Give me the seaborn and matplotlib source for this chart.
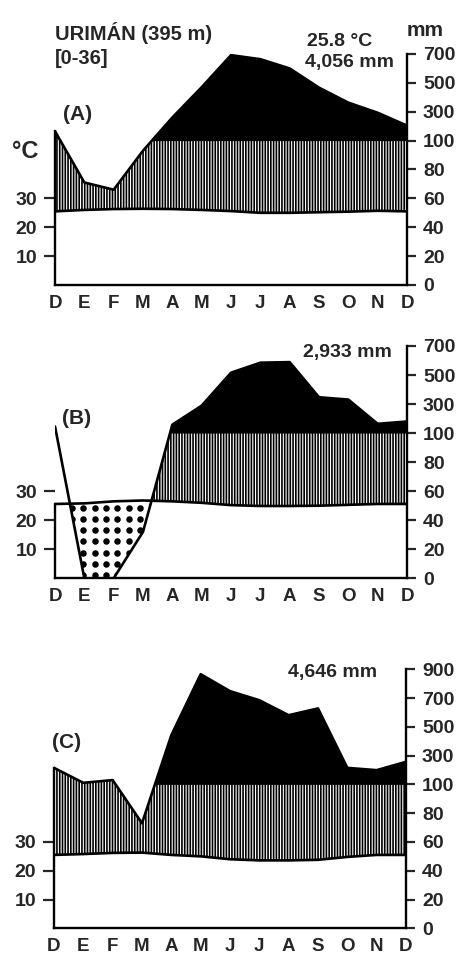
import numpy as np
import matplotlib
matplotlib.use("Agg")
import matplotlib.pyplot as plt
import seaborn as sns

# months from December to December (13 points)
months = ["D", "E", "F", "M", "A", "M", "J", "J", "A", "S", "O", "N", "D"]

# (A) Urimán
temp_a = [25.5, 26.0, 26.3, 26.4, 26.3, 26.0, 25.6, 25.0, 25.0, 25.2, 25.4, 25.7, 25.5]
prec_a = [165, 71, 66, 93, 260, 470, 692, 664, 600, 467, 363, 293, 204]
# (B)
temp_b = [25.6, 25.8, 26.5, 26.8, 26.5, 26.0, 25.2, 24.9, 24.9, 25.0, 25.3, 25.6, 25.6]
prec_b = [146, 0, 0, 32, 158, 289, 516, 585, 589, 347, 331, 164, 180]
# (C)
temp_c = [25.5, 25.8, 26.2, 26.3, 25.5, 25.0, 24.0, 23.6, 23.6, 23.8, 24.8, 25.5, 25.5]
prec_c = [215, 111, 130, 73, 442, 866, 748, 685, 581, 628, 215, 199, 257]

mm_ticks_700 = [0, 20, 40, 60, 80, 100, 300, 500, 700]
mm_ticks_900 = [0, 20, 40, 60, 80, 100, 300, 500, 700, 900]
temp_ticks = [10, 20, 30]

sns.set_style("white")
plt.rcParams["font.family"] = ["Liberation Sans", "DejaVu Sans"]
plt.rcParams["font.weight"] = "bold"
plt.rcParams["hatch.linewidth"] = 1.2

W, H = 463, 957
fig = plt.figure(figsize=(W / 100, H / 100), dpi=100)


def mm_scale(v):
    v = np.asarray(v, float)
    return np.where(v <= 100, v, 100 + (v - 100) / 10)


def px_text(x, y, s, size=14):
    fig.text(x / W, 1 - y / H, s, va="center", ha="left", fontsize=size,
             fontweight="bold")


def panel(left, right, bottom, top, temp, prec, mm_ticks):
    ax = fig.add_axes([left / W, 1 - bottom / H, (right - left) / W, (bottom - top) / H])
    x = np.arange(len(months))
    t = 2 * np.asarray(temp)          # 10 degC = 20 mm
    p = mm_scale(prec)

    xf = np.linspace(0, 12, 2401)
    tf = np.interp(xf, x, t)
    pf = np.interp(xf, x, p)
    wet = xf >= 3                     # black fill only in the main rainy season
    is_dry = tf > pf
    # with a dry season, hatching starts only once it is over
    hatch_from = xf[is_dry].max() if is_dry.any() else 0

    # humid season hatch
    top_h = np.where(wet, np.minimum(pf, 100), pf)
    ax.fill_between(xf, tf, top_h, where=(pf > tf) & (xf >= hatch_from), interpolate=True,
                    facecolor="white", edgecolor="black", hatch="||||||", linewidth=0)
    # perhumid part above 100 mm
    ax.fill_between(xf, 100, pf, where=(pf > 100) & wet, interpolate=True,
                    color="black", linewidth=0)
    # dry season dots
    dry = ax.fill_between(xf, pf, tf, where=is_dry, interpolate=True,
                          facecolor="none", linewidth=0)
    if len(dry.get_paths()) > 0:
        gx, gy = np.meshgrid(np.arange(0.57, 4, 0.39), np.arange(2.3, 60, 7.7))
        sc = ax.scatter(gx.ravel(), gy.ravel(), s=22, color="black", linewidths=0)
        sc.set_clip_path(dry.get_paths()[0], ax.transData)

    sns.lineplot(x=x, y=p, ax=ax, color="black", linewidth=1.9)
    sns.lineplot(x=x, y=t, ax=ax, color="black", linewidth=1.9)

    ymax = mm_scale(mm_ticks[-1])
    ax.set_xlim(0, 12)
    ax.set_ylim(0, ymax)
    ax.set_xticks(x)
    ax.set_xticklabels(months, fontsize=13.5, fontweight="bold")
    ax.set_yticks(2 * np.asarray(temp_ticks))
    ax.set_yticklabels([str(v) for v in temp_ticks], fontsize=14, fontweight="bold")
    ax.tick_params(axis="x", direction="inout", length=10, width=1.6, pad=2)
    ax.tick_params(axis="y", direction="out", length=8, width=1.6, pad=5, left=True)

    ax2 = ax.twinx()
    ax2.set_ylim(0, ymax)
    ax2.set_yticks(mm_scale(mm_ticks))
    ax2.set_yticklabels([str(v) for v in mm_ticks], fontsize=14, fontweight="bold")
    ax2.tick_params(axis="y", direction="out", length=6.5, width=1.6, pad=5, right=True)

    for a in (ax, ax2):
        a.spines["top"].set_visible(False)
        for s in ("left", "right", "bottom"):
            a.spines[s].set_linewidth(1.7)
            a.spines[s].set_color("black")
    ax2.spines["left"].set_visible(False)
    ax2.spines["bottom"].set_visible(False)
    ax.spines["right"].set_visible(False)
    # left edge closes the hatched area when there is no dry season at the start
    left_top = p[0] if hatch_from == 0 else t[0]
    ax.spines["left"].set_bounds(0, left_top)
    return ax


panel(55, 407, 285, 54, temp_a, prec_a, mm_ticks_700)
panel(55, 407, 578.3, 346, temp_b, prec_b, mm_ticks_700)
panel(54, 406, 928.3, 669.3, temp_c, prec_c, mm_ticks_900)

px_text(55, 33, "URIMÁN (395 m)", 14.5)
px_text(55, 58, "[0-36]", 14.5)
px_text(307, 42, "25.8 °C")
px_text(305, 62, "4,056 mm")
px_text(407, 30, "mm", 15)
px_text(12, 152, "°C", 17)
px_text(63, 115, "(A)", 15)
px_text(303, 353, "2,933 mm")
px_text(62, 419, "(B)", 15)
px_text(288, 672, "4,646 mm")
px_text(52, 743, "(C)", 15)

fig.savefig("out.png", dpi=100)
